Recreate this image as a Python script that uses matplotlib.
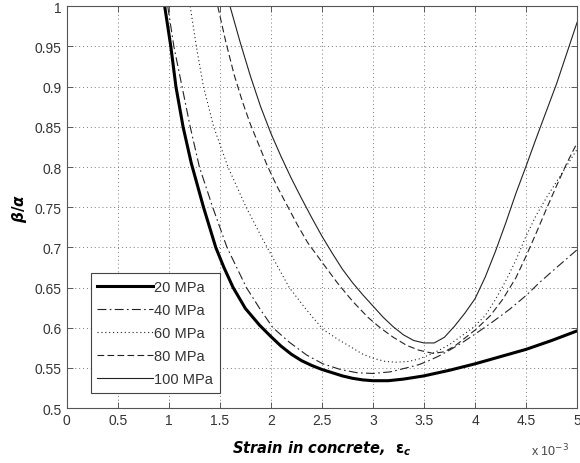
import matplotlib
matplotlib.use("Agg")
import matplotlib.pyplot as plt

# Strain values (x 10^-3) and beta/alpha
x20 = [0.96, 1.02, 1.07, 1.14, 1.22, 1.34, 1.46, 1.54, 1.63, 1.75, 1.89, 2.0, 2.1, 2.2, 2.3, 2.4,
       2.5, 2.6, 2.7, 2.8, 2.9, 3.0, 3.15, 3.3, 3.5, 3.75, 4.0, 4.25, 4.5, 4.75, 5.0]
y20 = [1.0, 0.95, 0.90, 0.85, 0.805, 0.75, 0.70, 0.675, 0.65, 0.624, 0.603, 0.589, 0.577, 0.567, 0.559, 0.553,
       0.548, 0.544, 0.540, 0.537, 0.535, 0.534, 0.534, 0.536, 0.540, 0.547, 0.555, 0.564, 0.573, 0.584, 0.596]

x40 = [0.99, 1.05, 1.13, 1.21, 1.30, 1.43, 1.57, 1.76, 1.9, 2.02, 2.18, 2.35, 2.51, 2.68, 2.84, 3.0,
       3.17, 3.33, 3.45, 3.55, 3.65, 3.75, 3.87, 4.0, 4.17, 4.34, 4.5, 4.63, 4.8, 5.0]
y40 = [1.0, 0.95, 0.90, 0.85, 0.80, 0.75, 0.70, 0.65, 0.622, 0.600, 0.582, 0.566, 0.555, 0.548, 0.544, 0.543,
       0.545, 0.550, 0.554, 0.559, 0.565, 0.572, 0.581, 0.592, 0.607, 0.623, 0.640, 0.656, 0.675, 0.697]

x60 = [1.21, 1.27, 1.34, 1.44, 1.58, 1.75, 1.92, 2.05, 2.18, 2.35, 2.51, 2.65, 2.77, 2.9, 3.0, 3.12,
       3.23, 3.35, 3.45, 3.55, 3.65, 3.75, 3.85, 3.98, 4.1, 4.2, 4.3, 4.4, 4.5, 4.6, 4.7, 4.8, 4.9, 5.0]
y60 = [1.0, 0.95, 0.90, 0.85, 0.80, 0.752, 0.71, 0.68, 0.65, 0.622, 0.598, 0.586, 0.577, 0.567, 0.562, 0.558,
       0.557, 0.558, 0.561, 0.566, 0.572, 0.579, 0.588, 0.600, 0.615, 0.635, 0.658, 0.684, 0.714, 0.740, 0.762, 0.782, 0.802, 0.822]

x80 = [1.48, 1.56, 1.64, 1.72, 1.80, 1.90, 1.96, 2.06, 2.16, 2.26, 2.36, 2.51, 2.65, 2.8, 2.95, 3.07,
       3.2, 3.33, 3.45, 3.59, 3.7, 3.8, 3.9, 4.01, 4.15, 4.27, 4.4, 4.5, 4.6, 4.7, 4.8, 4.9, 5.0]
y80 = [1.0, 0.955, 0.915, 0.882, 0.853, 0.822, 0.803, 0.776, 0.752, 0.728, 0.706, 0.680, 0.656, 0.633, 0.613, 0.600,
       0.588, 0.578, 0.572, 0.568, 0.570, 0.577, 0.587, 0.598, 0.615, 0.635, 0.662, 0.689, 0.718, 0.748, 0.777, 0.805, 0.830]

x100 = [1.60, 1.70, 1.80, 1.90, 2.0, 2.1, 2.2, 2.3, 2.4, 2.5, 2.6, 2.7, 2.8, 2.9, 3.0, 3.1, 3.2,
        3.3, 3.4, 3.5, 3.6, 3.7, 3.8, 3.9, 4.0, 4.1, 4.2, 4.3, 4.4, 4.5, 4.6, 4.7, 4.8, 4.9, 5.0]
y100 = [1.0, 0.955, 0.913, 0.875, 0.842, 0.813, 0.786, 0.761, 0.737, 0.714, 0.693, 0.673, 0.656, 0.641, 0.627, 0.613, 0.601,
        0.591, 0.584, 0.581, 0.581, 0.588, 0.602, 0.618, 0.636, 0.663, 0.695, 0.730, 0.767, 0.801, 0.836, 0.870, 0.904, 0.942, 0.980]

labels = ["20 MPa", "40 MPa", "60 MPa", "80 MPa", "100 MPa"]
xticks = [0, 0.5, 1, 1.5, 2, 2.5, 3, 3.5, 4, 4.5, 5]
yticks = [0.5, 0.55, 0.6, 0.65, 0.7, 0.75, 0.8, 0.85, 0.9, 0.95, 1.0]

fig = plt.figure(figsize=(5.8, 4.64), dpi=100)
ax = fig.add_axes([0.115, 0.1185, 0.88, 0.8657])

ax.plot(x20, y20, color="black", lw=2.2, label=labels[0])
ax.plot(x40, y40, color="#222222", lw=0.8, ls=(0, (8, 3, 1.5, 3)), label=labels[1])
ax.plot(x60, y60, color="#222222", lw=0.8, ls=(0, (1, 2.5)), label=labels[2])
ax.plot(x80, y80, color="#222222", lw=0.8, ls=(0, (6, 3)), label=labels[3])
ax.plot(x100, y100, color="#222222", lw=0.8, ls="-", label=labels[4])

ax.set_xlim(0, 5)
ax.set_ylim(0.5, 1.0)
ax.set_xticks(xticks)
ax.set_xticklabels([f"{t:g}" for t in xticks])
ax.set_yticks(yticks)
ax.set_yticklabels([f"{t:g}" for t in yticks])
ax.tick_params(direction="in", top=True, right=True, length=4, width=0.6,
               labelsize=10, labelcolor="#333333", color="#444444")
for lab in ax.get_xticklabels() + ax.get_yticklabels():
    lab.set_fontfamily("Liberation Sans")
ax.grid(True, color="#777777", ls=(0, (1, 3)), lw=0.7)
for s in ax.spines.values():
    s.set_color("#555555")
    s.set_linewidth(0.8)

ax.set_xlabel(r"Strain in concrete,  $\boldsymbol{\varepsilon}_{\boldsymbol{c}}$", fontsize=10.5,
              fontweight="heavy", fontstyle="italic", labelpad=8)
ax.set_ylabel(r"$\boldsymbol{\beta / \alpha}$", fontsize=11, labelpad=4)
ax.text(0.985, -0.085, r"x 10$^{-3}$", transform=ax.transAxes, ha="right", va="top",
        fontsize=9, color="#444444", family="Liberation Sans")

leg = ax.legend(loc="lower left", bbox_to_anchor=(0.033, 0.02),
                handlelength=3.8, handletextpad=0.1, labelspacing=0.62,
                borderpad=0.45, fancybox=False, framealpha=1, edgecolor="#444444",
                prop={"family": "Liberation Sans", "size": 10.5})
leg.get_frame().set_linewidth(0.8)
for t in leg.get_texts():
    t.set_color("#333333")

fig.savefig("out.png", dpi=100)
